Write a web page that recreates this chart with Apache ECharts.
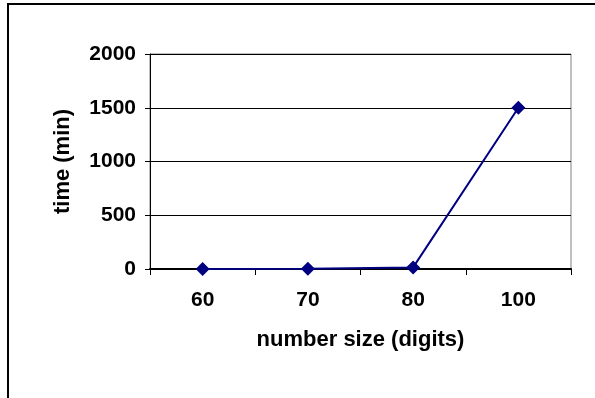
<!DOCTYPE html>
<html>
<head>
<meta charset="utf-8">
<script src="https://cdn.jsdelivr.net/npm/echarts@6/dist/echarts.min.js"></script>
<style>
html,body{margin:0;padding:0;background:#fff;}
#c{width:595px;height:398px;}
</style>
</head>
<body>
<div id="c"></div>
<script>
var categories = ['60', '70', '80', '100'];
var timeValues = [0, 2, 15, 1500];
var yTicks = [0, 500, 1000, 1500, 2000];
var xAxisName = 'number size (digits)';
var yAxisName = 'time (min)';

var chart = echarts.init(document.getElementById('c'), null, {renderer: 'canvas'});
var font = 'Liberation Sans, Arial, sans-serif';
chart.setOption({
  animation: false,
  backgroundColor: '#fff',
  graphic: [{
    type: 'rect', shape: {x: 8, y: 4, width: 620, height: 420},
    style: {fill: 'none', stroke: '#000', lineWidth: 2}, silent: true
  }],
  grid: {left: 150, right: 24, top: 54, bottom: 129, show: true, borderColor: '#808080', borderWidth: 1, backgroundColor: 'transparent'},
  xAxis: {
    type: 'category', data: categories, boundaryGap: true,
    name: xAxisName, nameLocation: 'middle', nameGap: 60,
    nameTextStyle: {fontFamily: font, fontWeight: 'bold', fontSize: 22, color: '#000'},
    axisLine: {lineStyle: {color: '#000', width: 2}},
    axisTick: {show: true, length: 6, lineStyle: {color: '#000', width: 1}},
    axisLabel: {fontFamily: font, fontWeight: 'bold', fontSize: 21, color: '#000', margin: 21}
  },
  yAxis: {
    type: 'value', min: yTicks[0], max: yTicks[yTicks.length - 1], interval: 500,
    name: yAxisName, nameLocation: 'middle', nameGap: 76, nameRotate: 90,
    nameTextStyle: {fontFamily: font, fontWeight: 'bold', fontSize: 22, color: '#000'},
    axisLine: {show: true, lineStyle: {color: '#000', width: 1}},
    axisTick: {show: true, length: 5, lineStyle: {color: '#000'}},
    axisLabel: {fontFamily: font, fontWeight: 'bold', fontSize: 21, color: '#000', margin: 14,
      formatter: function (v) { return String(v); }},
    splitLine: {show: true, lineStyle: {color: '#000', width: 1}}
  },
  series: [{
    type: 'line', data: timeValues,
    symbol: 'diamond', symbolSize: 14,
    lineStyle: {color: '#000080', width: 2},
    itemStyle: {color: '#000080'}
  }]
});
</script>
</body>
</html>
